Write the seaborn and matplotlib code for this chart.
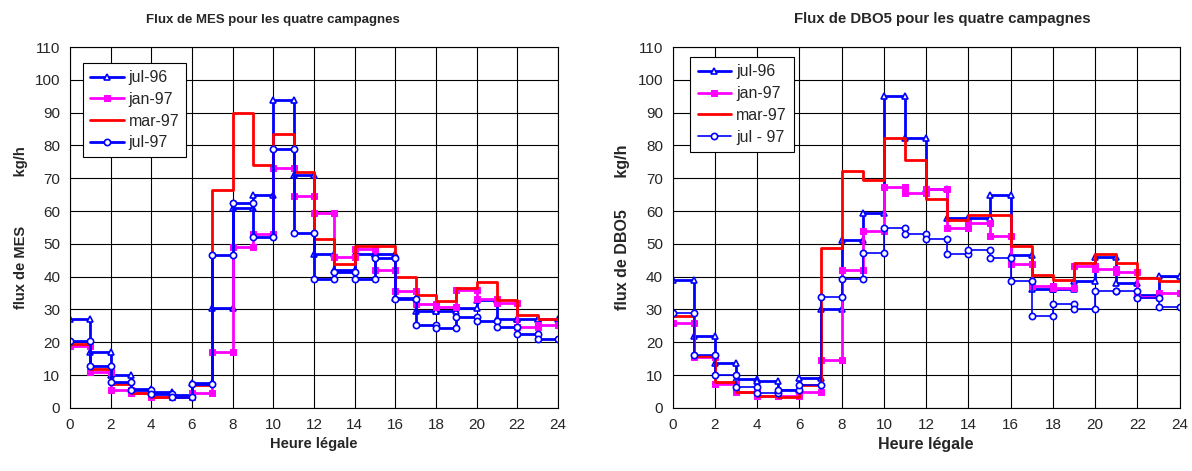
import numpy as np
import pandas as pd
import seaborn as sns
import matplotlib
matplotlib.use("Agg")
import matplotlib.pyplot as plt

# hourly fluxes (kg/h), one value per hour 0-1 ... 23-24
hours = list(range(24))

mes_jul96 = [27, 17, 10, 5.7, 4.7, 4, 7.5, 30.5, 61, 65, 94, 71, 47, 42, 47, 47,
             33.5, 29.5, 29.5, 30.6, 33, 27, 27, 27]
mes_jan97 = [19, 11, 5.5, 4.6, 3.3, 3.3, 4.6, 17, 49, 53, 73, 64.5, 59.5, 46, 48.5, 42,
             35.5, 31.7, 30.7, 36, 33.2, 32, 24.8, 25.4]
mes_mar97 = [19.5, 12, 7.2, 4.6, 3.4, 3.2, 7, 66.5, 90, 74, 83.5, 72, 51.5, 44, 49.3, 49.3,
             40, 34.3, 32.5, 36.5, 38.4, 32.8, 28.4, 27.1]
mes_jul97 = [20.5, 12.8, 8, 5.6, 4.2, 3.4, 7.2, 46.5, 62.4, 52, 78.8, 53.2, 39.4, 41.4, 39.4, 45.7,
             33.3, 25.4, 24.3, 27.7, 26.4, 24.8, 22.4, 21]

dbo_jul96 = [39, 22, 13.7, 8.8, 8.3, 5.4, 9.2, 30, 51.3, 59.3, 95, 82.3, 66.8, 58, 58, 65,
             46.5, 36.2, 36.2, 38.7, 46, 38, 34.5, 40.2]
dbo_jan97 = [25.9, 15.4, 7.4, 4.8, 3.7, 3.5, 4.9, 14.7, 42, 54, 67.2, 65.4, 66.7, 54.9, 56.4, 52.4,
             44, 37.1, 36.7, 43.2, 42.3, 41.3, 33.9, 35.1]
dbo_mar97 = [28, 15.8, 7.9, 4.9, 3.5, 3.3, 7.1, 48.6, 72.2, 69.4, 82.4, 75.5, 63.6, 57.2, 58.7, 58.7,
             49.5, 40.5, 39, 44.2, 46.8, 44.2, 39.6, 38.6]
dbo_jul97 = [29, 16.2, 10, 6.5, 4.6, 5.6, 6.9, 33.9, 39.4, 47.3, 54.9, 53, 51.5, 47, 48, 45.7,
             38.7, 28, 31.6, 30, 35.7, 35.7, 33.6, 30.8]

mes_labels = ["jul-96", "jan-97", "mar-97", "jul-97"]
dbo_labels = ["jul-96", "jan-97", "mar-97", "jul - 97"]


def step_frame(values):
    # each hourly value becomes a flat segment from h to h+1
    xs, ys = [], []
    for h, v in zip(hours, values):
        xs += [h, h + 1]
        ys += [v, v]
    return pd.DataFrame({"heure": xs, "flux": ys})


styles = [
    dict(color="#0000FF", marker="^", markersize=5, markerfacecolor="white",
         markeredgecolor="#0000FF", markeredgewidth=1.2, linewidth=2),
    dict(color="#FF00FF", marker="s", markersize=5, markerfacecolor="#FF00FF",
         markeredgecolor="#FF00FF", linewidth=2),
    dict(color="#FF0000", marker=None, linewidth=2),
    dict(color="#0000FF", marker="o", markersize=4.5, markerfacecolor="white",
         markeredgecolor="#0000FF", markeredgewidth=1.2, linewidth=2),
]


def draw_panel(ax, series, labels, title, ylabel, title_size, title_x, label_size,
               leg_anchor, thin_last=False):
    for i, (vals, lab) in enumerate(zip(series, labels)):
        st = dict(styles[i])
        if thin_last and i == 3:
            st["linewidth"] = 1.2
        sns.lineplot(data=step_frame(vals), x="heure", y="flux", ax=ax, sort=False,
                     estimator=None, label=lab, **st)
    ax.set_xlim(0, 24)
    ax.set_ylim(0, 110)
    ax.set_xticks(range(0, 25, 2))
    ax.set_yticks(range(0, 111, 10))
    ax.grid(True, color="black", linewidth=0.8)
    ax.set_axisbelow(True)
    for sp in ax.spines.values():
        sp.set_color("black")
        sp.set_linewidth(0.8)
    ax.tick_params(axis="both", direction="out", length=4, width=0.8, labelsize=11, pad=3)
    ax.set_title(title, fontsize=title_size, fontweight="bold", pad=17, x=title_x)
    ax.set_xlabel("Heure légale", fontsize=label_size, fontweight="bold", labelpad=4)
    ax.set_ylabel(ylabel, fontsize=label_size, fontweight="bold", labelpad=5)
    leg = ax.legend(loc="upper left", bbox_to_anchor=leg_anchor, fontsize=11.5,
                    frameon=True, fancybox=False, edgecolor="black", framealpha=1,
                    handlelength=2.1, handletextpad=0.3, labelspacing=0.42,
                    borderpad=0.45, borderaxespad=0)
    leg.get_frame().set_linewidth(0.8)


sns.set_style("white")
plt.rcParams["font.family"] = ["Liberation Sans", "DejaVu Sans"]

fig = plt.figure(figsize=(11.92, 4.71), dpi=100)
ax1 = fig.add_axes([0.0587, 0.134, 0.4093, 0.766])
ax2 = fig.add_axes([0.5643, 0.134, 0.4254, 0.766])

draw_panel(ax1, [mes_jul96, mes_jan97, mes_mar97, mes_jul97], mes_labels,
           "Flux de MES pour les quatre campagnes", "flux de MES            kg/h",
           title_size=9.5, title_x=0.416, label_size=10.5, leg_anchor=(0.027, 0.956))
draw_panel(ax2, [dbo_jul96, dbo_jan97, dbo_mar97, dbo_jul97], dbo_labels,
           "Flux de DBO5 pour les quatre campagnes", "flux de DBO5       kg/h",
           title_size=10.8, title_x=0.532, label_size=11.5, leg_anchor=(0.035, 0.972),
           thin_last=True)

fig.savefig("out.png", dpi=100)
